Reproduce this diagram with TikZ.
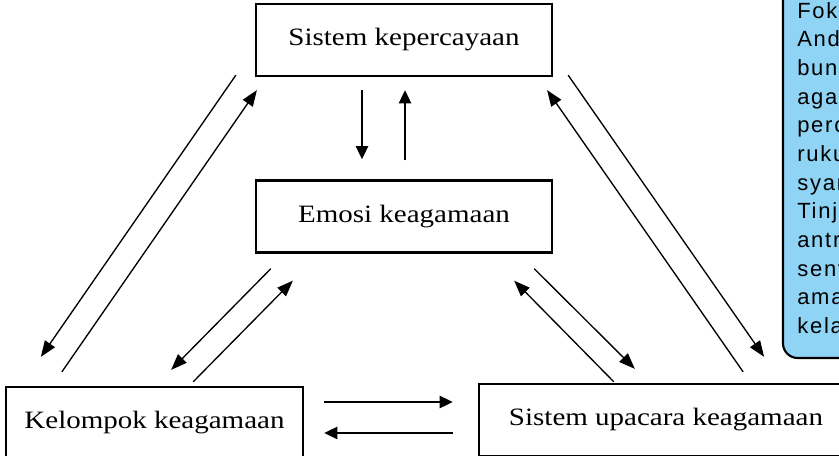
\documentclass[tikz,border=0pt]{standalone}
\usepackage{fontspec}
\setmainfont[FakeStretch=1.16]{Liberation Serif}
\newfontfamily\notefont[LetterSpace=8]{Liberation Sans}
\usetikzlibrary{arrows.meta,calc}
\definecolor{noteblue}{RGB}{143,212,245}

\begin{document}
\begin{tikzpicture}[x=0.75pt,y=-0.75pt,
    box/.style={draw, line width=1.7pt, inner sep=0pt, minimum height=54pt,
      font=\fontsize{18.75}{20}\selectfont},
    thinarrow/.style={line width=1pt, -{Triangle[length=12pt,width=9pt]}},
    thickarrow/.style={line width=2.2pt, -{Triangle[length=10pt,width=9pt]}}]
    \useasboundingbox (0,0) rectangle (839,456);
    \clip (0,0) rectangle (839,456);

    % the four boxes
    \node[box, minimum width=222pt] (faith) at (404,40) {Sistem kepercayaan};
    \node[box, minimum width=222pt] (emotion) at (404,216.5) {Emosi keagamaan};
    \node[box, minimum width=222.75pt] (group) at (154.5,423) {Kelompok keagamaan};
    \node[box, minimum width=280.5pt] (ritual) at (666,420) {Sistem upacara keagamaan};

    % side note, cut by the page edge
    \draw[line width=1.6pt, fill=noteblue, rounded corners=11pt] (783,-30) rectangle (920,358);
    \node[anchor=north west, align=left, inner sep=0pt,
      font=\notefont\fontsize{16.5}{21.5}\selectfont] (note) at (797,2)
      {Fok\\And\\bun\\aga\\perc\\ruku\\syar\\Tinj\\antr\\sent\\ama\\kela};

    % faith <-> emotion
    \draw[thickarrow] ($(faith.south)+(-42,13)$) -- ($(emotion.north)+(-42,-20)$);
    \draw[thickarrow] ($(emotion.north)+(1,-19)$) -- ($(faith.south)+(1,13)$);

    % faith <-> group
    \draw[thinarrow] ($(faith.south west)+(-19,-2)$) -- ($(group.north west)+(36,-29)$);
    \draw[thinarrow] ($(group.north west)+(57,-14)$) -- ($(faith.south west)+(2,13)$);

    % emotion <-> group
    \draw[thinarrow] ($(emotion.south west)+(16,15)$) -- ($(group.north east)+(-133,-16)$);
    \draw[thinarrow] ($(group.north east)+(-111,-4)$) -- ($(emotion.south west)+(38,27)$);

    % emotion <-> ritual
    \draw[thinarrow] ($(emotion.south east)+(-19,15)$) -- ($(ritual.north west)+(157,-14)$);
    \draw[thinarrow] ($(ritual.north west)+(136,-1)$) -- ($(emotion.south east)+(-39,27)$);

    % faith <-> ritual
    \draw[thinarrow] ($(faith.south east)+(15,-2)$) -- ($(ritual.north east)+(-90,-26)$);
    \draw[thinarrow] ($(ritual.north east)+(-111,-11)$) -- ($(faith.south east)+(-6,13)$);

    % group <-> ritual
    \draw[thickarrow] ($(group.east)+(20,-21)$) -- ($(ritual.west)+(-25,-18)$);
    \draw[thickarrow] ($(ritual.west)+(-25,13)$) -- ($(group.east)+(20,10)$);
\end{tikzpicture}
\end{document}
